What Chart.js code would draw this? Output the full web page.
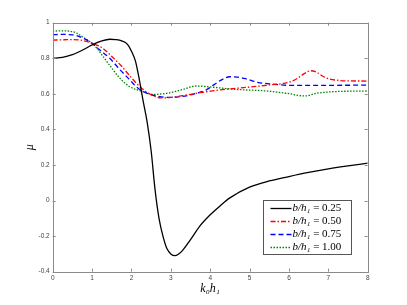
<!DOCTYPE html>
<html>
<head>
<meta charset="utf-8">
<script src="https://cdn.jsdelivr.net/npm/chart.js@4/dist/chart.umd.min.js"></script>
<style>
  html, body { margin: 0; padding: 0; background: #fff; }
  #wrap { width: 407px; height: 305px; }
</style>
</head>
<body>
<div id="wrap"><canvas id="muChart" width="407" height="305"></canvas></div>
<script>
// values
var seriesLabels = ["b/h\u2081 = 0.25", "b/h\u2081 = 0.50", "b/h\u2081 = 0.75", "b/h\u2081 = 1.00"];

var kh25 = [0, 0.25, 0.5, 0.75, 1, 1.25, 1.45, 1.6, 1.75, 1.9, 2.0, 2.1, 2.2, 2.3, 2.4, 2.5, 2.6, 2.7, 2.8, 2.9, 3.0, 3.1, 3.2, 3.3, 3.5, 3.75, 4.0, 4.25, 4.5, 5, 5.5, 6, 6.5, 7, 7.5, 8];
var mu25 = [0.80, 0.805, 0.82, 0.845, 0.875, 0.898, 0.907, 0.905, 0.898, 0.878, 0.84, 0.785, 0.68, 0.556, 0.44, 0.28, 0.06, -0.10, -0.20, -0.27, -0.30, -0.31, -0.30, -0.28, -0.22, -0.14, -0.08, -0.03, 0.015, 0.075, 0.11, 0.135, 0.158, 0.178, 0.195, 0.21];

var kh50 = [0, 0.3, 0.5, 0.75, 1, 1.25, 1.5, 1.75, 2, 2.25, 2.5, 2.75, 3, 3.25, 3.5, 3.75, 4, 4.5, 5, 5.5, 6, 6.2, 6.4, 6.55, 6.7, 6.85, 7, 7.25, 7.5, 8];
var mu50 = [0.902, 0.904, 0.905, 0.90, 0.884, 0.86, 0.81, 0.755, 0.69, 0.633, 0.595, 0.577, 0.58, 0.588, 0.597, 0.607, 0.615, 0.628, 0.638, 0.65, 0.665, 0.685, 0.715, 0.73, 0.722, 0.70, 0.685, 0.676, 0.673, 0.672];

var kh75 = [0, 0.25, 0.5, 0.75, 1, 1.2, 1.45, 1.7, 1.96, 2.17, 2.4, 2.65, 2.9, 3.2, 3.5, 3.75, 3.9, 4.1, 4.3, 4.5, 4.7, 4.9, 5.2, 5.6, 6, 7, 8];
var mu75 = [0.933, 0.934, 0.932, 0.915, 0.884, 0.846, 0.80, 0.738, 0.678, 0.631, 0.603, 0.587, 0.58, 0.583, 0.594, 0.61, 0.622, 0.652, 0.68, 0.696, 0.694, 0.685, 0.665, 0.654, 0.648, 0.648, 0.649];

var kh100 = [0, 0.15, 0.3, 0.57, 0.8, 1.0, 1.12, 1.28, 1.5, 1.71, 1.96, 2.3, 2.55, 2.89, 3.23, 3.65, 4.08, 4.58, 5.43, 5.94, 6.41, 6.7, 7.12, 8];
var mu100 = [0.952, 0.954, 0.954, 0.945, 0.915, 0.884, 0.856, 0.81, 0.745, 0.687, 0.64, 0.612, 0.597, 0.603, 0.62, 0.644, 0.637, 0.626, 0.616, 0.603, 0.588, 0.603, 0.612, 0.616];

var xTicks = [0, 1, 2, 3, 4, 5, 6, 7, 8];
var yTicks = [-0.4, -0.2, 0, 0.2, 0.4, 0.6, 0.8, 1];

function toPoints(xs, ys) {
    return xs.map(function (x, i) { return {x: x, y: ys[i]}; });
}

// MATLAB style box with inward ticks on all four sides
var boxPlugin = {
    id: 'boxTicks',
    afterDatasetsDraw: function (chart) {
        var ctx = chart.ctx, a = chart.chartArea;
        var xs = chart.scales.x, ys = chart.scales.y;
        ctx.save();
        ctx.strokeStyle = '#8a8a8a';
        ctx.lineWidth = 1;
        ctx.strokeRect(Math.round(a.left) + 0.5, Math.round(a.top) + 0.5, Math.round(a.right - a.left), Math.round(a.bottom - a.top));
        ctx.beginPath();
        xTicks.forEach(function (v) {
            var px = Math.round(xs.getPixelForValue(v)) + 0.5;
            ctx.moveTo(px, a.bottom); ctx.lineTo(px, a.bottom - 3);
            ctx.moveTo(px, a.top); ctx.lineTo(px, a.top + 3);
        });
        yTicks.forEach(function (v) {
            var py = Math.round(ys.getPixelForValue(v)) + 0.5;
            ctx.moveTo(a.left, py); ctx.lineTo(a.left + 3, py);
            ctx.moveTo(a.right, py); ctx.lineTo(a.right - 3, py);
        });
        ctx.stroke();
        ctx.restore();
    }
};

var legendPlugin = {
    id: 'boxLegend',
    afterDraw: function (chart) {
        var ctx = chart.ctx;
        var x0 = 263.5, y0 = 200.5, w = 88, h = 54;
        ctx.save();
        ctx.fillStyle = '#fff';
        ctx.fillRect(x0, y0, w, h);
        ctx.strokeStyle = '#555';
        ctx.lineWidth = 1;
        ctx.strokeRect(x0, y0, w, h);
        chart.data.datasets.forEach(function (ds, i) {
            var y = y0 + 8 + i * 13;
            ctx.beginPath();
            ctx.setLineDash(ds.borderDash || []);
            ctx.strokeStyle = ds.borderColor;
            ctx.lineWidth = ds.borderWidth;
            ctx.moveTo(x0 + 7, y);
            ctx.lineTo(x0 + 28, y);
            ctx.stroke();
            ctx.setLineDash([]);
            var parts = ds.label.split(' = ');
            ctx.fillStyle = '#000';
            ctx.textBaseline = 'middle';
            ctx.font = 'italic 11px "Liberation Serif"';
            ctx.fillText(parts[0], x0 + 29, y);
            var tw = ctx.measureText(parts[0]).width;
            ctx.font = '11px "Liberation Serif"';
            ctx.fillText(' = ' + parts[1], x0 + 29 + tw, y);
        });
        ctx.restore();
    }
};

var styles = [
    {color: '#000000', dash: []},
    {color: '#ff0000', dash: [5, 2, 1.5, 2]},
    {color: '#0000ff', dash: [5, 3]},
    {color: '#008000', dash: [1.5, 1.5]}
];
var xsets = [kh25, kh50, kh75, kh100];
var ysets = [mu25, mu50, mu75, mu100];

var datasets = seriesLabels.map(function (label, i) {
    return {
        label: label,
        data: toPoints(xsets[i], ysets[i]),
        borderColor: styles[i].color,
        borderDash: styles[i].dash,
        borderWidth: 1.3,
        pointRadius: 0,
        fill: false,
        cubicInterpolationMode: 'monotone'
    };
});

var tickFont = {family: '"Liberation Sans", Arial, sans-serif', size: 6.5};

new Chart(document.getElementById('muChart'), {
    type: 'line',
    data: { datasets: datasets },
    options: {
        responsive: false,
        animation: false,
        layout: { padding: {left: 0, right: 39.3, top: 22.7, bottom: 0} },
        plugins: { legend: {display: false}, tooltip: {enabled: false} },
        scales: {
            x: {
                type: 'linear',
                min: 0, max: 8,
                afterFit: function (s) { s.height = 33.3; },
                afterBuildTicks: function (s) { s.ticks = xTicks.map(function (v) { return {value: v}; }); },
                grid: {display: false, drawTicks: false},
                border: {display: false},
                ticks: {font: tickFont, color: '#444', padding: 3, maxRotation: 0},
                title: {
                    display: true,
                    text: 'k\u2080h\u2081',
                    color: '#000',
                    font: {family: '"Liberation Serif", serif', size: 12, style: 'italic'},
                    padding: {top: 0, bottom: 9}
                }
            },
            y: {
                type: 'linear',
                min: -0.4, max: 1,
                afterFit: function (s) { s.width = 52.7; },
                afterBuildTicks: function (s) { s.ticks = yTicks.map(function (v) { return {value: v}; }); },
                grid: {display: false, drawTicks: false},
                border: {display: false},
                ticks: {
                    font: tickFont, color: '#444', padding: 3,
                    callback: function (v) { return String(Number(v.toFixed(1))); }
                },
                title: {
                    display: true,
                    text: '\u03bc',
                    color: '#000',
                    font: {family: '"Liberation Serif", serif', size: 12, style: 'italic'},
                    padding: {top: 23, bottom: 0}
                }
            }
        }
    },
    plugins: [boxPlugin, legendPlugin]
});
</script>
</body>
</html>
